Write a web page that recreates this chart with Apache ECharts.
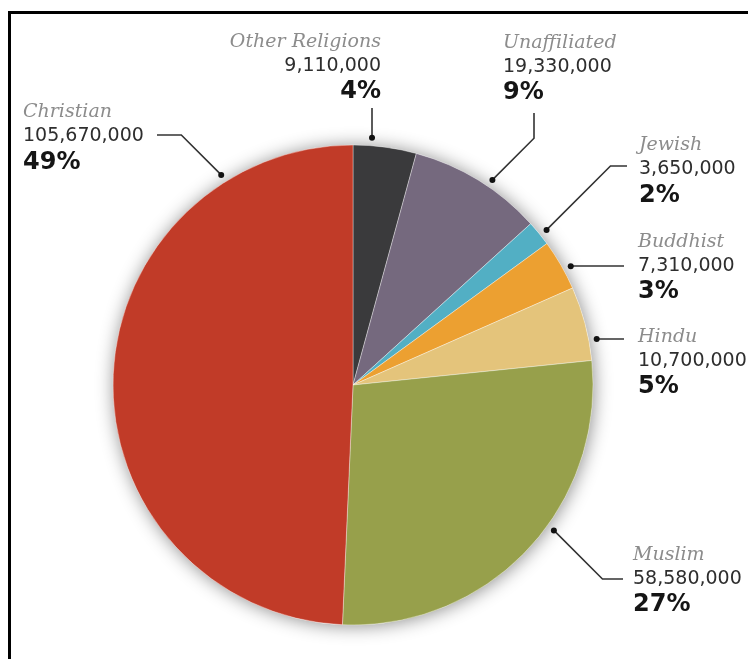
<!DOCTYPE html>
<html>
<head>
<meta charset="utf-8">
<script src="https://cdn.jsdelivr.net/npm/echarts@6/dist/echarts.min.js"></script>
<style>
  html, body { margin: 0; padding: 0; width: 748px; height: 659px; overflow: hidden; background: #fff; }
  #frame { position: absolute; left: 8px; top: 11px; width: 900px; height: 800px; border: 3px solid #000; box-sizing: border-box; }
  #chart { position: absolute; left: 0; top: 0; width: 748px; height: 659px; }
</style>
</head>
<body>
<div id="frame"></div>
<div id="chart"></div>
<script>
// ---- data ----
const categories = ['Other Religions', 'Unaffiliated', 'Jewish', 'Buddhist', 'Hindu', 'Muslim', 'Christian'];
const populations = [9110000, 19330000, 3650000, 7310000, 10700000, 58580000, 105670000];
const sliceColors = ['#3a3a3c', '#75697e', '#52afc4', '#eca031', '#e4c47b', '#97a04b', '#c13b28'];

// ---- label layout (annotation placement only) ----
const leaderAngles = [4.4, 34.2, 51.3, 61.4, 79.3, 125.9, 327.9]; // degrees clockwise from 12 o'clock
const labelBlocks = [
  { align: 'right', x: 381, y: 42,    end: [372, 108], dir: 'v' },
  { align: 'left',  x: 503, y: 43,    end: [534, 113], dir: 'v' },
  { align: 'left',  x: 639, y: 145.5, end: [627, 166], dir: 'h' },
  { align: 'left',  x: 638, y: 242,   end: [624, 266], dir: 'h' },
  { align: 'left',  x: 638, y: 337,   end: [624, 339], dir: 'h' },
  { align: 'left',  x: 633, y: 555,   end: [623, 579], dir: 'h' },
  { align: 'left',  x: 23,  y: 112.5, end: [157, 135], dir: 'h' }
];

const total = populations.reduce((a, b) => a + b, 0);
const fmt = v => v.toLocaleString('en-US');
const pct = v => Math.round(v / total * 100) + '%';

const CENTER = [353, 385];
const R = 240;
const DOT_R = 248;

const chart = echarts.init(document.getElementById('chart'), null, { renderer: 'canvas' });

chart.setOption({
  animation: false,
  backgroundColor: 'transparent',
  polar: { center: CENTER, radius: DOT_R },
  angleAxis: { type: 'value', min: 0, max: 360, startAngle: 90, clockwise: true, show: false },
  radiusAxis: { type: 'value', min: 0, max: DOT_R, show: false },
  series: [
    {
      // soft shadow disc behind the pie
      type: 'pie',
      center: CENTER,
      radius: R,
      silent: true,
      z: 1,
      label: { show: false },
      labelLine: { show: false },
      data: [{ value: total }],
      itemStyle: {
        color: '#ffffff',
        shadowBlur: 18,
        shadowColor: 'rgba(0,0,0,0.45)',
        shadowOffsetX: 1,
        shadowOffsetY: 1
      }
    },
    {
      type: 'pie',
      center: CENTER,
      radius: R,
      startAngle: 90,
      clockwise: true,
      z: 2,
      label: { show: false },
      labelLine: { show: false },
      emphasis: { disabled: true },
      itemStyle: { borderColor: 'rgba(255,255,255,0.45)', borderWidth: 0.8 },
      data: categories.map((c, i) => ({
        name: c,
        value: populations[i],
        itemStyle: { color: sliceColors[i] }
      }))
    },
    {
      type: 'custom',
      coordinateSystem: 'polar',
      z: 3,
      silent: true,
      encode: { radius: 0, angle: 1 },
      data: leaderAngles.map(a => [DOT_R, a]),
      renderItem: function (params, api) {
        const i = params.dataIndex;
        const dot = api.coord([api.value(0), api.value(1)]);
        const b = labelBlocks[i];
        const end = b.end;
        let elbow;
        if (b.dir === 'h') {
          elbow = [dot[0] + Math.sign(end[0] - dot[0]) * Math.abs(dot[1] - end[1]), end[1]];
        } else {
          elbow = [end[0], dot[1] + Math.sign(end[1] - dot[1]) * Math.abs(end[0] - dot[0])];
        }
        return {
          type: 'group',
          children: [
            {
              type: 'polyline',
              shape: { points: [dot, elbow, end] },
              style: { stroke: '#333', lineWidth: 1.6, fill: null }
            },
            {
              type: 'circle',
              shape: { cx: dot[0], cy: dot[1], r: 3 },
              style: { fill: '#111' }
            },
            {
              type: 'text',
              style: {
                x: b.x, y: b.y, text: categories[i],
                font: 'italic 19px "DejaVu Serif"',
                fill: '#8c8c8c', align: b.align, verticalAlign: 'middle'
              }
            },
            {
              type: 'text',
              style: {
                x: b.x, y: b.y + 24, text: fmt(populations[i]),
                font: '19px "DejaVu Sans"',
                fill: '#2e2e2e', align: b.align, verticalAlign: 'middle'
              }
            },
            {
              type: 'text',
              style: {
                x: b.x, y: b.y + 50, text: pct(populations[i]),
                font: 'bold 24px "DejaVu Sans"',
                fill: '#151515', align: b.align, verticalAlign: 'middle'
              }
            }
          ]
        };
      }
    }
  ]
});
</script>
</body>
</html>
